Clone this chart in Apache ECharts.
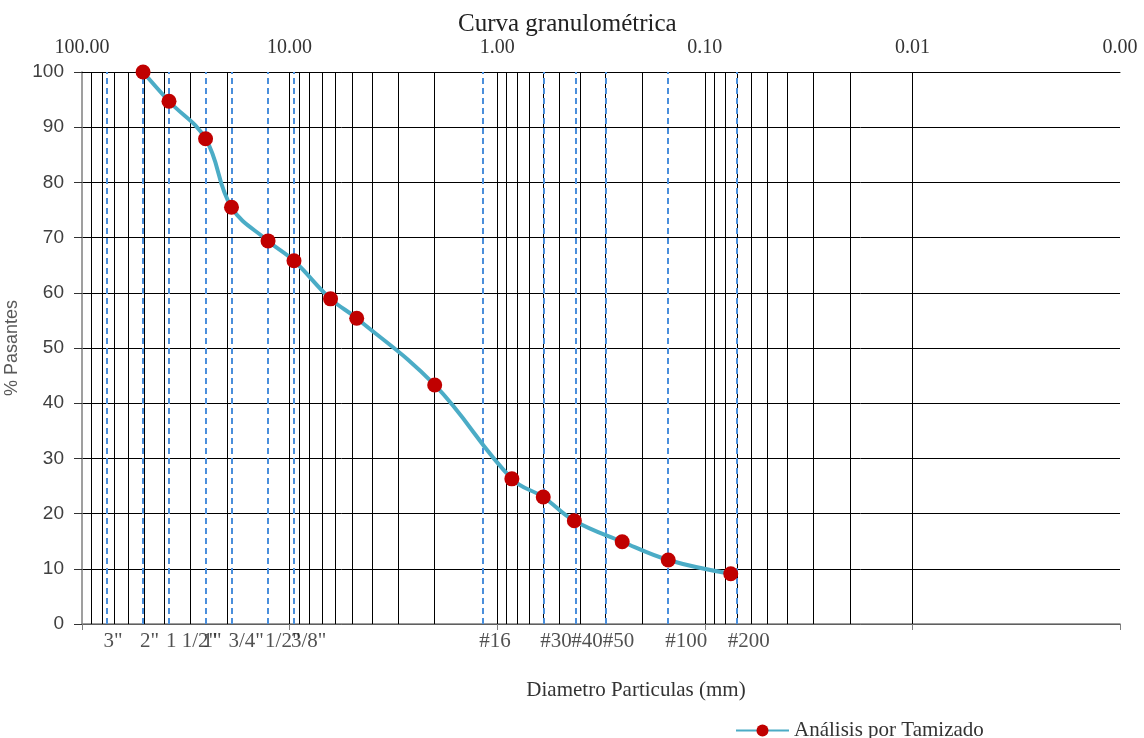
<!DOCTYPE html>
<html>
<head>
<meta charset="utf-8">
<script src="https://cdn.jsdelivr.net/npm/echarts@6/dist/echarts.min.js"></script>
<style>html,body{margin:0;padding:0;background:#fff}#c{width:1144px;height:738px}</style>
</head>
<body>
<div id="c"></div>
<script>
// ---- data ----
const chartTitle = 'Curva granulométrica';
const seriesName = 'Análisis por Tamizado';
const xAxisName = 'Diametro Particulas (mm)';
const yAxisName = '% Pasantes';
const diameters = [50.8, 38.1, 25.4, 19.05, 12.7, 9.525, 6.35, 4.75, 2.0, 0.85, 0.6, 0.425, 0.25, 0.15, 0.075];
const passing   = [100, 94.7, 87.9, 75.5, 69.4, 65.8, 58.9, 55.4, 43.3, 26.3, 23.0, 18.7, 14.9, 11.6, 9.1];
const sieveLabels = ['3"', '2"', '1 1/2"', '1"', '3/4"', '1/2"', '3/8"', '#16', '#30', '#40', '#50', '#100', '#200'];
const sieveSizes  = [76.2, 50.8, 38.1, 25.4, 19.05, 12.7, 9.525, 1.18, 0.6, 0.425, 0.3, 0.15, 0.075];
const xMin = 0.001, xMax = 100;
const yMin = 0, yMax = 100, yStep = 10;
// log grid lines (1..9 x 10^k)
const gridValues = [];
for (let e = -3; e <= 1; e++) for (let m = 1; m <= 9; m++) gridValues.push(+(m * Math.pow(10, e)).toPrecision(6));

const serif = 'Liberation Serif';
const sans = 'Liberation Sans';

const chart = echarts.init(document.getElementById('c'));
const option = {
  animation: false,
  backgroundColor: '#ffffff',
  title: {
    text: chartTitle, left: 453, top: 7,
    textStyle: { fontFamily: serif, fontSize: 25, fontWeight: 'normal', color: '#222' }
  },
  legend: {
    data: [seriesName], left: 730, top: 715, itemWidth: 53, itemHeight: 15, itemGap: 4,
    textStyle: { fontFamily: serif, fontSize: 21, color: '#333' }
  },
  grid: { left: 82, right: 24, top: 72, bottom: 114, outerBoundsMode: 'none', containLabel: false },
  xAxis: [
    {
      type: 'log', logBase: 10, min: xMin, max: xMax, inverse: true, position: 'bottom',
      axisLine: { lineStyle: { color: '#7f7f7f', width: 1.5 } },
      axisTick: { show: true, length: 6, lineStyle: { color: '#7f7f7f' } },
      axisLabel: { show: false }, splitLine: { show: false },
      name: xAxisName, nameLocation: 'middle', nameGap: 56,
      nameTextStyle: { fontFamily: serif, fontSize: 21, color: '#333', padding: [0, 0, 0, 70] }
    },
    {
      type: 'log', logBase: 10, min: xMin, max: xMax, inverse: true, position: 'top',
      axisLine: { lineStyle: { color: '#000', width: 1 } },
      axisTick: { show: false }, splitLine: { show: false },
      axisLabel: { formatter: v => Number(v).toFixed(2), margin: 14, fontFamily: serif, fontSize: 20, color: '#333', showMinLabel: true, showMaxLabel: true }
    }
  ],
  yAxis: {
    type: 'value', min: yMin, max: yMax, interval: yStep,
    axisLine: { show: true, lineStyle: { color: '#7f7f7f', width: 1.5 } },
    axisTick: { show: true, length: 8, lineStyle: { color: '#333' } },
    axisLabel: { fontFamily: sans, fontSize: 19, color: '#404040', margin: 18 },
    splitLine: { show: true, lineStyle: { color: '#000', width: 1 } },
    name: yAxisName, nameLocation: 'middle', nameGap: 47,
    nameTextStyle: { fontFamily: sans, fontSize: 18, color: '#595959' }
  },
  series: [
    {
      name: 'grid', type: 'line', data: [], z: 1, silent: true,
      markLine: {
        silent: true, symbol: 'none', animation: false,
        label: { show: false },
        lineStyle: { color: '#000', width: 1, type: 'solid' },
        emphasis: { disabled: true },
        data: gridValues.map(v => ({ xAxis: v }))
      }
    },
    {
      name: 'sieves', type: 'scatter', z: 2, silent: true, clip: false,
      symbol: 'circle', symbolSize: 0.1, itemStyle: { color: 'rgba(0,0,0,0)' },
      data: sieveSizes.map((v, i) => [v, yMin, sieveLabels[i]]),
      label: {
        show: true, position: 'bottom', distance: 7, align: 'left', offset: [-3, 0],
        formatter: p => p.data[2],
        fontFamily: serif, fontSize: 21, color: '#262626'
      },
      markLine: {
        silent: true, symbol: 'none', animation: false,
        label: { show: false },
        lineStyle: { color: '#4a8fdc', width: 2, type: [6, 4] },
        emphasis: { disabled: true },
        data: sieveSizes.map(v => ({ xAxis: v }))
      }
    },
    {
      name: seriesName, type: 'line', z: 5, smooth: 0.4,
      data: diameters.map((d, i) => [d, passing[i]]),
      lineStyle: { color: '#4bacc6', width: 4 },
      itemStyle: { color: '#c00000' },
      symbol: 'circle', symbolSize: 15, showAllSymbol: true
    }
  ]
};
chart.setOption(option);
</script>
</body>
</html>
